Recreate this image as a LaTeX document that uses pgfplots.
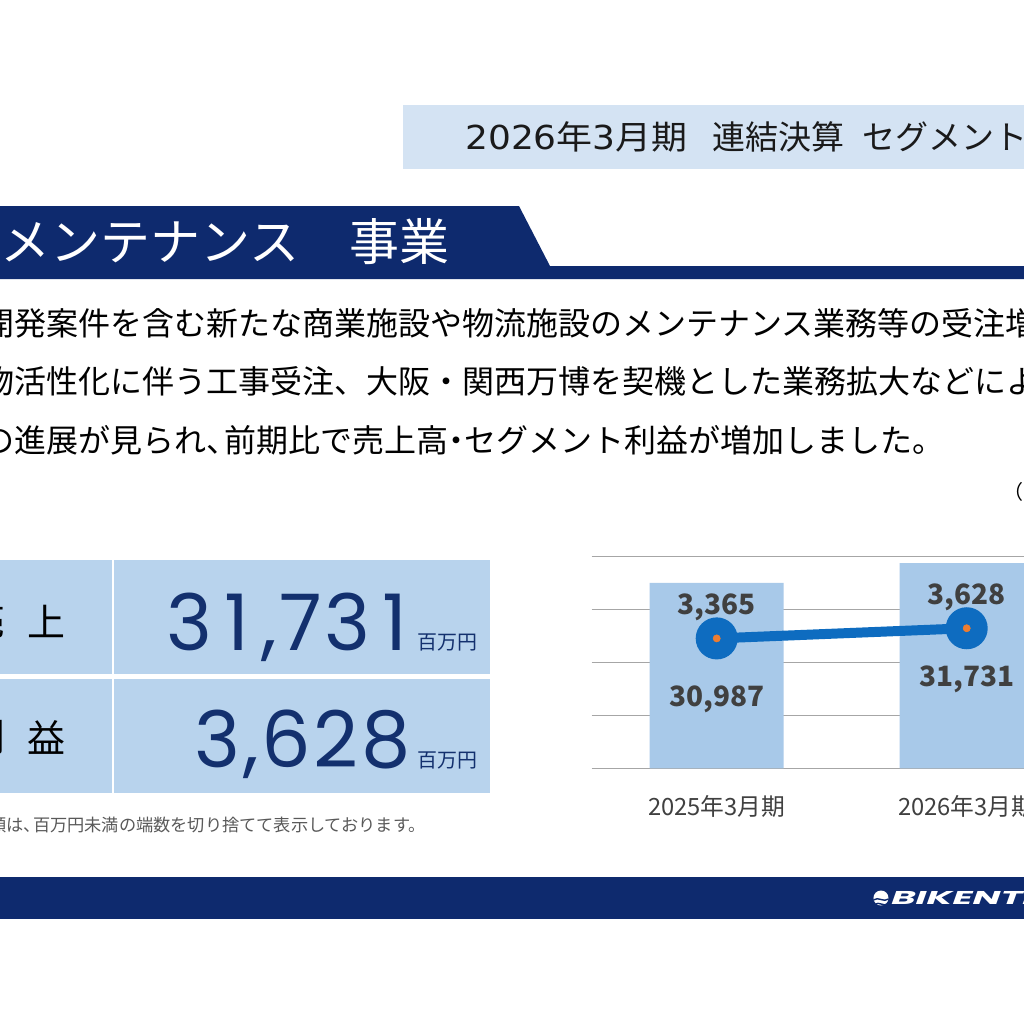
\documentclass[border=0pt]{standalone}
\usepackage{pgfplots}
\pgfplotsset{compat=1.18}
\usepackage{fontspec}
\setmainfont{Noto Sans CJK JP}
\newfontfamily\poppins{Poppins}
\newfontfamily\dejavu{DejaVu Sans}
\definecolor{titlebg}{HTML}{D4E3F3}
\definecolor{navy}{HTML}{0E2A6E}
\definecolor{cell}{HTML}{B8D3ED}
\definecolor{bignum}{HTML}{13306E}
\definecolor{barc}{HTML}{A8C9E9}
\definecolor{gridc}{HTML}{A6A6A6}
\definecolor{linec}{HTML}{0E6CC0}
\definecolor{orangec}{HTML}{ED7D31}
\definecolor{labelgray}{HTML}{404040}
\definecolor{footgray}{HTML}{595959}
\definecolor{titletext}{HTML}{1A1A1A}
\newcommand{\fs}[1]{\fontsize{#1}{#1}\selectfont}
\newcommand{\tou}{、\kern-0.45em}
\newcommand{\nak}{\kern-0.25em・\kern-0.25em}
\newcommand{\ka}{\kern3mm}
\newcommand{\kb}{\kern0.7mm}
\begin{document}
\begin{tikzpicture}
\useasboundingbox (0,0) rectangle (256mm,256mm);
\fill[white] (0,0) rectangle (256mm,256mm);
\begin{scope}
\clip (0,0) rectangle (256mm,256mm);
\begin{scope}[x=0.25mm,y=0.25mm]
% title box
\fill[titlebg] (403,855) rectangle (1030,919);
\node[anchor=west,inner sep=0,text=titletext] at (465,887) {\scalebox{1.09}[1]{\fs{23.47}{\dejavu 2026}年{\dejavu 3}月期}};
\node[anchor=west,inner sep=0,text=titletext] at (712,887) {\fs{23.47}連結決算};
\node[anchor=west,inner sep=0,text=titletext] at (862,887) {\fs{23.47}セグメント業績};
% banner
\fill[navy] (0,818) -- (519,818) -- (550,758) -- (1030,758) -- (1030,745) -- (0,745) -- cycle;
\node[anchor=west,inner sep=0,text=white] at (0,782) {\fs{35.57}メンテナンス　事業};
% body text
\node[anchor=west,inner sep=0] at (-18,701) {\fs{22.76}開発案件を含む新たな商業施設や物流施設のメンテナンス業務等の受注増加};
\node[anchor=west,inner sep=0] at (-18,643) {\fs{22.76}物活性化に伴う工事受注、大阪・関西万博を契機とした業務拡大などにより};
\node[anchor=west,inner sep=0] at (-18,584) {\fs{22.76}の進展が見られ\tou 前期比で売上高\nak セグメント利益が増加しました。};
\node[anchor=west,inner sep=0] at (1003,532) {\fs{14.2}（単位：百万円）};
% table
\fill[cell] (-5,464) rectangle (111.7,350);
\fill[cell] (114.3,464) rectangle (490,350);
\fill[cell] (-5,345) rectangle (111.7,231);
\fill[cell] (114.3,345) rectangle (490,231);
\node[inner sep=0] at (-14,403) {\fs{27}売};
\node[inner sep=0] at (46,403) {\fs{27}上};
\node[inner sep=0] at (-14,287) {\fs{27}利};
\node[inner sep=0] at (46,287) {\fs{27}益};
\node[anchor=base east,inner sep=0,text=bignum] at (408,374) {\fs{55.5}\poppins 3\ka 1\ka ,\kb 7\kb 3\ka 1};
\node[anchor=base west,inner sep=0,text=bignum] at (417,375) {\fs{14.2}百万円};
\node[anchor=base east,inner sep=0,text=bignum] at (411,257) {\fs{55.5}\poppins 3\kb ,\kb 6\kb 2\kb 8};
\node[anchor=base west,inner sep=0,text=bignum] at (417,257) {\fs{14.2}百万円};
\node[anchor=west,inner sep=0,text=footgray] at (-11,199) {\fs{12.23}額は\tou 百万円未満の端数を切り捨てて表示しております。};
% footer
\fill[navy] (0,147) rectangle (1030,105);
\fill[white] (881,126) circle (7.5);
\draw[navy,line width=0.35mm] (873.5,124) .. controls (878,128) and (884,121) .. (888.5,125);
\draw[navy,line width=0.35mm] (874.5,119.5) .. controls (879,123) and (884,117) .. (887.5,120);
\node[anchor=west,inner sep=0,text=white] at (891,126) {\scalebox{2.0}[1]{\fs{13.2}\poppins\bfseries\itshape BIKENTECHNO}};
\end{scope}
% chart: bars
\begin{axis}[
  at={(147.925mm,63.925mm)}, anchor=south west,
  width=125mm, height=53.075mm, scale only axis,
  xmin=-0.5, xmax=1.5, ymin=24000, ymax=32000,
  axis line style={draw=none}, tick style={draw=none},
  ytick={24000,26000,28000,30000,32000},
  scaled y ticks=false, yticklabel style={opacity=0},
  ymajorgrids, major grid style={color=gridc, line width=0.7pt},
  xtick={0,1}, xticklabels={2025年3月期,2026年3月期},
  xticklabel style={font=\fs{16.9}, text=labelgray, yshift=-4mm},
  ybar, bar width=33.5mm, bar shift=0pt,
  /pgf/number format/fixed, /pgf/number format/precision=0,
  /pgf/number format/1000 sep={,}, /pgf/number format/assume math mode=true,
  nodes near coords,
  every node near coord/.append style={anchor=center, yshift=-29mm, font=\fs{19.9}\bfseries, text=labelgray},
]
\addplot[fill=barc, draw=none] coordinates {(0,30987) (1,31731)};
\end{axis}
% chart: line
\begin{axis}[
  at={(147.925mm,63.925mm)}, anchor=south west,
  width=125mm, height=53.075mm, scale only axis,
  xmin=-0.5, xmax=1.5, ymin=0, ymax=5500,
  hide axis, clip=false,
  /pgf/number format/fixed, /pgf/number format/precision=0,
  /pgf/number format/1000 sep={,}, /pgf/number format/assume math mode=true,
]
\addplot[color=linec, line width=7.1pt, mark=*, mark size=4mm, mark options={fill=linec, draw=none},
  nodes near coords,
  every node near coord/.append style={anchor=center, yshift=7.75mm, font=\fs{19.9}\bfseries, text=labelgray}]
  coordinates {(0,3365) (1,3628)};
\addplot[only marks, mark=*, mark size=0.9mm, color=orangec, mark options={draw=none, fill=orangec}]
  coordinates {(0,3365) (1,3628)};
\end{axis}
\end{scope}
\end{tikzpicture}
\end{document}
